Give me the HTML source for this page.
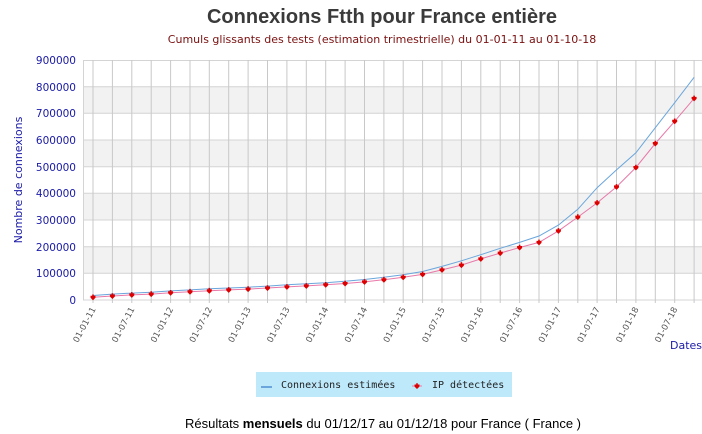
<!DOCTYPE html>
<html><head><meta charset="utf-8"><style>
body{margin:0;width:702px;height:434px;background:#fff;overflow:hidden}
svg{display:block}
</style></head><body>
<svg width="702" height="434" xmlns="http://www.w3.org/2000/svg">
<defs>
<path id="m" d="M-2.5,-1.5 L2.5,-1.5 L2.5,0.5 L0,3 L-2.5,0.5Z M-0.8,-2.8 L0.8,-2.8 L0.8,-1.5 L-0.8,-1.5Z"/>
</defs>
<text x="382" y="23" text-anchor="middle" font-family="Liberation Sans, sans-serif" font-weight="bold" font-size="20" fill="#3a3a3a">Connexions Ftth pour France entière</text>
<text x="382" y="43" text-anchor="middle" font-family="DejaVu Sans, sans-serif" font-size="11" fill="#7a1010">Cumuls glissants des tests (estimation trimestrielle) du 01-01-11 au 01-10-18</text>
<g fill="#f2f2f2">
<rect x="83" y="86.7" width="619" height="26.7"/>
<rect x="83" y="140" width="619" height="26.7"/>
<rect x="83" y="193.3" width="619" height="26.7"/>
<rect x="83" y="246.7" width="619" height="26.7"/>
</g>
<g stroke="#d4d4d4" stroke-width="1">
<line x1="83" y1="60.5" x2="702" y2="60.5"/><line x1="83" y1="86.7" x2="702" y2="86.7"/><line x1="83" y1="113.3" x2="702" y2="113.3"/><line x1="83" y1="140" x2="702" y2="140"/><line x1="83" y1="166.7" x2="702" y2="166.7"/><line x1="83" y1="193.3" x2="702" y2="193.3"/><line x1="83" y1="220" x2="702" y2="220"/><line x1="83" y1="246.7" x2="702" y2="246.7"/><line x1="83" y1="273.3" x2="702" y2="273.3"/><line x1="83" y1="300" x2="702" y2="300"/>
<line x1="83.5" y1="60" x2="83.5" y2="300"/>
</g>
<g stroke="#c8c8c8" stroke-width="1">
<line x1="93" y1="60" x2="93" y2="303"/><line x1="112.4" y1="60" x2="112.4" y2="303"/><line x1="131.8" y1="60" x2="131.8" y2="303"/><line x1="151.2" y1="60" x2="151.2" y2="303"/><line x1="170.6" y1="60" x2="170.6" y2="303"/><line x1="190" y1="60" x2="190" y2="303"/><line x1="209.3" y1="60" x2="209.3" y2="303"/><line x1="228.7" y1="60" x2="228.7" y2="303"/><line x1="248.1" y1="60" x2="248.1" y2="303"/><line x1="267.5" y1="60" x2="267.5" y2="303"/><line x1="286.9" y1="60" x2="286.9" y2="303"/><line x1="306.3" y1="60" x2="306.3" y2="303"/><line x1="325.7" y1="60" x2="325.7" y2="303"/><line x1="345.1" y1="60" x2="345.1" y2="303"/><line x1="364.5" y1="60" x2="364.5" y2="303"/><line x1="383.9" y1="60" x2="383.9" y2="303"/><line x1="403.2" y1="60" x2="403.2" y2="303"/><line x1="422.6" y1="60" x2="422.6" y2="303"/><line x1="442" y1="60" x2="442" y2="303"/><line x1="461.4" y1="60" x2="461.4" y2="303"/><line x1="480.8" y1="60" x2="480.8" y2="303"/><line x1="500.2" y1="60" x2="500.2" y2="303"/><line x1="519.6" y1="60" x2="519.6" y2="303"/><line x1="539" y1="60" x2="539" y2="303"/><line x1="558.4" y1="60" x2="558.4" y2="303"/><line x1="577.8" y1="60" x2="577.8" y2="303"/><line x1="597.1" y1="60" x2="597.1" y2="303"/><line x1="616.5" y1="60" x2="616.5" y2="303"/><line x1="635.9" y1="60" x2="635.9" y2="303"/><line x1="655.3" y1="60" x2="655.3" y2="303"/><line x1="674.7" y1="60" x2="674.7" y2="303"/><line x1="694.1" y1="60" x2="694.1" y2="303"/>
</g>
<g font-family="DejaVu Sans, sans-serif" font-size="10.5" fill="#1a1aa8" text-anchor="end">
<text x="76" y="64">900000</text><text x="76" y="91">800000</text><text x="76" y="117">700000</text><text x="76" y="144">600000</text><text x="76" y="171">500000</text><text x="76" y="197">400000</text><text x="76" y="224">300000</text><text x="76" y="251">200000</text><text x="76" y="277">100000</text><text x="76" y="304">0</text>
</g>
<text transform="translate(22,180) rotate(-90)" text-anchor="middle" font-family="DejaVu Sans, sans-serif" font-size="11" fill="#1a1aa8">Nombre de connexions</text>
<text x="670" y="349" font-family="DejaVu Sans, sans-serif" font-size="11" fill="#1a1aa8">Dates</text>
<g font-family="DejaVu Sans, sans-serif" font-size="8.5" fill="#555" text-anchor="end">
<text transform="translate(96,309) rotate(-62)">01-01-11</text>
<text transform="translate(134.8,309) rotate(-62)">01-07-11</text>
<text transform="translate(173.6,309) rotate(-62)">01-01-12</text>
<text transform="translate(212.3,309) rotate(-62)">01-07-12</text>
<text transform="translate(251.1,309) rotate(-62)">01-01-13</text>
<text transform="translate(289.9,309) rotate(-62)">01-07-13</text>
<text transform="translate(328.7,309) rotate(-62)">01-01-14</text>
<text transform="translate(367.5,309) rotate(-62)">01-07-14</text>
<text transform="translate(406.2,309) rotate(-62)">01-01-15</text>
<text transform="translate(445,309) rotate(-62)">01-07-15</text>
<text transform="translate(483.8,309) rotate(-62)">01-01-16</text>
<text transform="translate(522.6,309) rotate(-62)">01-07-16</text>
<text transform="translate(561.4,309) rotate(-62)">01-01-17</text>
<text transform="translate(600.1,309) rotate(-62)">01-07-17</text>
<text transform="translate(638.9,309) rotate(-62)">01-01-18</text>
<text transform="translate(677.7,309) rotate(-62)">01-07-18</text>
</g>
<polyline fill="none" stroke="#6aa6dc" stroke-width="1" points="93,295.5 112.4,294.1 131.8,293.1 151.2,292.3 170.6,290.9 190,289.9 209.3,288.8 228.7,288 248.1,287.2 267.5,286.1 286.9,284.8 306.3,283.7 325.7,282.7 345.1,281.3 364.5,279.5 383.9,277.3 403.2,274.7 422.6,271.5 442,266.4 461.4,260.8 480.8,254.7 500.2,248.3 519.6,242.4 539,236 558.4,225.1 577.8,209.3 597.1,187.7 616.5,169.9 635.9,152.8 655.3,127.7 674.7,102.7 694.1,77.3"/>
<polyline fill="none" stroke="#e879a8" stroke-width="1" points="93,297.3 112.4,296 131.8,294.9 151.2,294.1 170.6,292.8 190,291.7 209.3,290.7 228.7,289.9 248.1,289.1 267.5,288 286.9,286.9 306.3,285.9 325.7,284.8 345.1,283.5 364.5,281.9 383.9,279.7 403.2,277.3 422.6,274.4 442,269.9 461.4,265.1 480.8,258.9 500.2,253.1 519.6,247.5 539,242.4 558.4,230.9 577.8,217.1 597.1,202.9 616.5,186.9 635.9,167.5 655.3,143.5 674.7,121.3 694.1,98.4"/>
<g fill="#dd0000">
<use href="#m" x="93" y="297.3"/><use href="#m" x="112.4" y="296"/><use href="#m" x="131.8" y="294.9"/><use href="#m" x="151.2" y="294.1"/><use href="#m" x="170.6" y="292.8"/><use href="#m" x="190" y="291.7"/><use href="#m" x="209.3" y="290.7"/><use href="#m" x="228.7" y="289.9"/><use href="#m" x="248.1" y="289.1"/><use href="#m" x="267.5" y="288"/><use href="#m" x="286.9" y="286.9"/><use href="#m" x="306.3" y="285.9"/><use href="#m" x="325.7" y="284.8"/><use href="#m" x="345.1" y="283.5"/><use href="#m" x="364.5" y="281.9"/><use href="#m" x="383.9" y="279.7"/><use href="#m" x="403.2" y="277.3"/><use href="#m" x="422.6" y="274.4"/><use href="#m" x="442" y="269.9"/><use href="#m" x="461.4" y="265.1"/><use href="#m" x="480.8" y="258.9"/><use href="#m" x="500.2" y="253.1"/><use href="#m" x="519.6" y="247.5"/><use href="#m" x="539" y="242.4"/><use href="#m" x="558.4" y="230.9"/><use href="#m" x="577.8" y="217.1"/><use href="#m" x="597.1" y="202.9"/><use href="#m" x="616.5" y="186.9"/><use href="#m" x="635.9" y="167.5"/><use href="#m" x="655.3" y="143.5"/><use href="#m" x="674.7" y="121.3"/><use href="#m" x="694.1" y="98.4"/>
</g>
<rect x="256" y="372" width="256" height="25" fill="#bde9fb"/>
<line x1="261" y1="387" x2="272" y2="387" stroke="#6aa6dc" stroke-width="2"/>
<text x="281" y="388" font-family="DejaVu Sans Mono, Liberation Mono, monospace" font-size="10" fill="#222">Connexions estimées</text>
<line x1="412" y1="386" x2="422" y2="386" stroke="#e879a8" stroke-width="1"/>
<use href="#m" x="417" y="386" fill="#dd0000"/>
<text x="432" y="388" font-family="DejaVu Sans Mono, Liberation Mono, monospace" font-size="10" fill="#222">IP détectées</text>
<text x="383" y="428" text-anchor="middle" font-family="Liberation Sans, sans-serif" font-size="13" fill="#000">Résultats <tspan font-weight="bold">mensuels</tspan> du 01/12/17 au 01/12/18 pour France ( France )</text>
</svg>
</body></html>
